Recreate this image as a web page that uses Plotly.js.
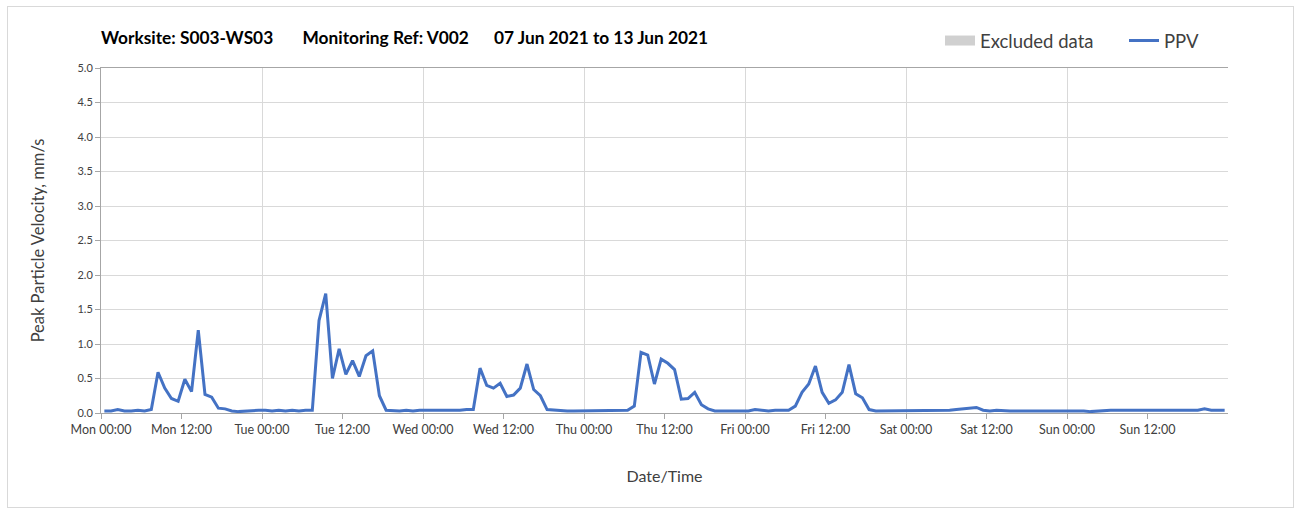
<!DOCTYPE html>
<html>
<head>
<meta charset="utf-8">
<script src="https://cdn.plot.ly/plotly-3.0.1.min.js"></script>
<style>
  html, body { margin: 0; padding: 0; background: #fff; }
  #wrap { position: relative; width: 1301px; height: 513px; }
  #chart { width: 1301px; height: 513px; }
  #frame { position: absolute; left: 7px; top: 6px; width: 1285px; height: 500px; border: 1px solid #d9d9d9; pointer-events: none; }
</style>
</head>
<body>
<div id="wrap"><div id="chart"></div><div id="frame"></div></div>
<script>
// Hourly PPV values (mm/s), 07 Jun 2021 00:00 to 13 Jun 2021 23:00
const startTime = '2021-06-07T00:00:00';
const endTime = '2021-06-14T00:00:00';
const ppvMon = [0.03,0.03,0.05,0.03,0.03,0.04,0.03,0.05,0.59,0.36,0.21,0.17,0.49,0.31,1.20,0.27,0.23,0.07,0.06,0.03,0.02,0.03,0.04,0.04];
const ppvTue = [0.04,0.03,0.04,0.03,0.04,0.03,0.04,0.04,1.34,1.73,0.50,0.93,0.56,0.76,0.53,0.83,0.90,0.25,0.04,0.03,0.03,0.04,0.03,0.04];
const ppvWed = [0.04,0.04,0.03,0.03,0.03,0.04,0.05,0.05,0.65,0.40,0.36,0.43,0.24,0.26,0.36,0.71,0.34,0.25,0.05,0.04,0.03,0.03,0.03,0.03];
const ppvThu = [0.03,0.04,0.03,0.04,0.03,0.04,0.04,0.10,0.88,0.84,0.42,0.78,0.72,0.63,0.20,0.21,0.30,0.12,0.06,0.03,0.03,0.03,0.04,0.04];
const ppvFri = [0.03,0.05,0.04,0.03,0.04,0.04,0.04,0.10,0.30,0.42,0.68,0.30,0.14,0.19,0.30,0.70,0.28,0.22,0.05,0.03,0.03,0.03,0.03,0.03];
const ppvSat = [0.03,0.03,0.03,0.03,0.03,0.04,0.04,0.05,0.06,0.06,0.08,0.04,0.03,0.04,0.03,0.03,0.03,0.03,0.04,0.03,0.04,0.03,0.03,0.03];
const ppvSun = [0.04,0.03,0.03,0.02,0.03,0.03,0.04,0.04,0.04,0.03,0.03,0.03,0.03,0.03,0.03,0.03,0.03,0.04,0.03,0.04,0.06,0.04,0.04,0.04];
const xTickLabels = ['Mon 00:00','Mon 12:00','Tue 00:00','Tue 12:00','Wed 00:00','Wed 12:00','Thu 00:00','Thu 12:00','Fri 00:00','Fri 12:00','Sat 00:00','Sat 12:00','Sun 00:00','Sun 12:00'];
const yTickLabels = ['0.0','0.5','1.0','1.5','2.0','2.5','3.0','3.5','4.0','4.5','5.0'];

const ppv = [].concat(ppvMon, ppvTue, ppvWed, ppvThu, ppvFri, ppvSat, ppvSun);
const H = 3600 * 1000;
const t0 = new Date(startTime + 'Z').getTime();
function iso(ms) { return new Date(ms).toISOString().slice(0, 19).replace('T', ' '); }
// each hourly reading is plotted in the middle of its hour slot
const times = ppv.map((_, i) => iso(t0 + (i + 0.5) * H));
const tickVals = xTickLabels.map((_, i) => iso(t0 + i * 12 * H));
const yTickVals = yTickLabels.map(Number);

const font = 'Lato, "Open Sans", "DejaVu Sans", sans-serif';
const sp = n => '\u00a0'.repeat(n);

const traces = [
  { type: 'scatter', mode: 'lines', x: [null], y: [null], name: 'Excluded data', line: { color: '#d0d0d0', width: 11 }, showlegend: true, hoverinfo: 'skip' },
  { type: 'scatter', mode: 'lines', x: times, y: ppv, name: 'PPV', line: { color: '#4472c4', width: 3 } }
];

const layout = {
  width: 1301, height: 513,
  margin: { l: 101, r: 73, t: 68, b: 100, autoexpand: false },
  paper_bgcolor: '#ffffff', plot_bgcolor: '#ffffff',
  font: { family: font, color: '#404040' },
  title: {
    text: 'Worksite: S003-WS03' + sp(7) + 'Monitoring Ref: V002' + sp(6) + '07 Jun 2021 to 13 Jun 2021',
    font: { family: font, size: 17.3, color: '#000000', weight: 'bold' },
    x: 0, xanchor: 'left', xref: 'paper', y: 1 - 38 / 513, yanchor: 'middle', yref: 'container'
  },
  showlegend: true,
  legend: {
    orientation: 'h', x: 940 / 1301, xanchor: 'left', xref: 'container', y: 1 - 41 / 513, yanchor: 'middle', yref: 'container',
    entrywidth: 139, entrywidthmode: 'pixels',
    font: { family: font, size: 18.5, color: '#404040' }, bgcolor: 'rgba(0,0,0,0)', traceorder: 'normal'
  },
  xaxis: {
    type: 'date', range: [iso(t0), iso(new Date(endTime + 'Z').getTime())],
    tickmode: 'array', tickvals: tickVals, ticktext: xTickLabels,
    ticks: 'outside', ticklen: 5, tickcolor: '#a6a6a6',
    showgrid: false, zeroline: false,
    showline: true, linecolor: '#a6a6a6', linewidth: 1, mirror: true,
    minor: { tick0: iso(t0), dtick: 24 * H, showgrid: true, gridcolor: '#d9d9d9', gridwidth: 1, ticks: '' },
    tickfont: { family: font, size: 12.5, color: '#404040' },
    title: { text: 'Date/Time', font: { family: font, size: 16, color: '#404040' }, standoff: 34 }
  },
  yaxis: {
    range: [0, 5], tickmode: 'array', tickvals: yTickVals, ticktext: yTickLabels,
    ticks: 'outside', ticklen: 5, tickcolor: '#a6a6a6',
    showgrid: true, gridcolor: '#d9d9d9', gridwidth: 1, zeroline: false,
    showline: true, linecolor: '#a6a6a6', linewidth: 1,
    tickfont: { family: font, size: 11, color: '#404040' },
    title: { text: 'Peak Particle Velocity, mm/s', font: { family: font, size: 16.5, color: '#404040' }, standoff: 28 }
  }
};

Plotly.newPlot('chart', traces, layout, { displayModeBar: false, staticPlot: true });
</script>
</body>
</html>
